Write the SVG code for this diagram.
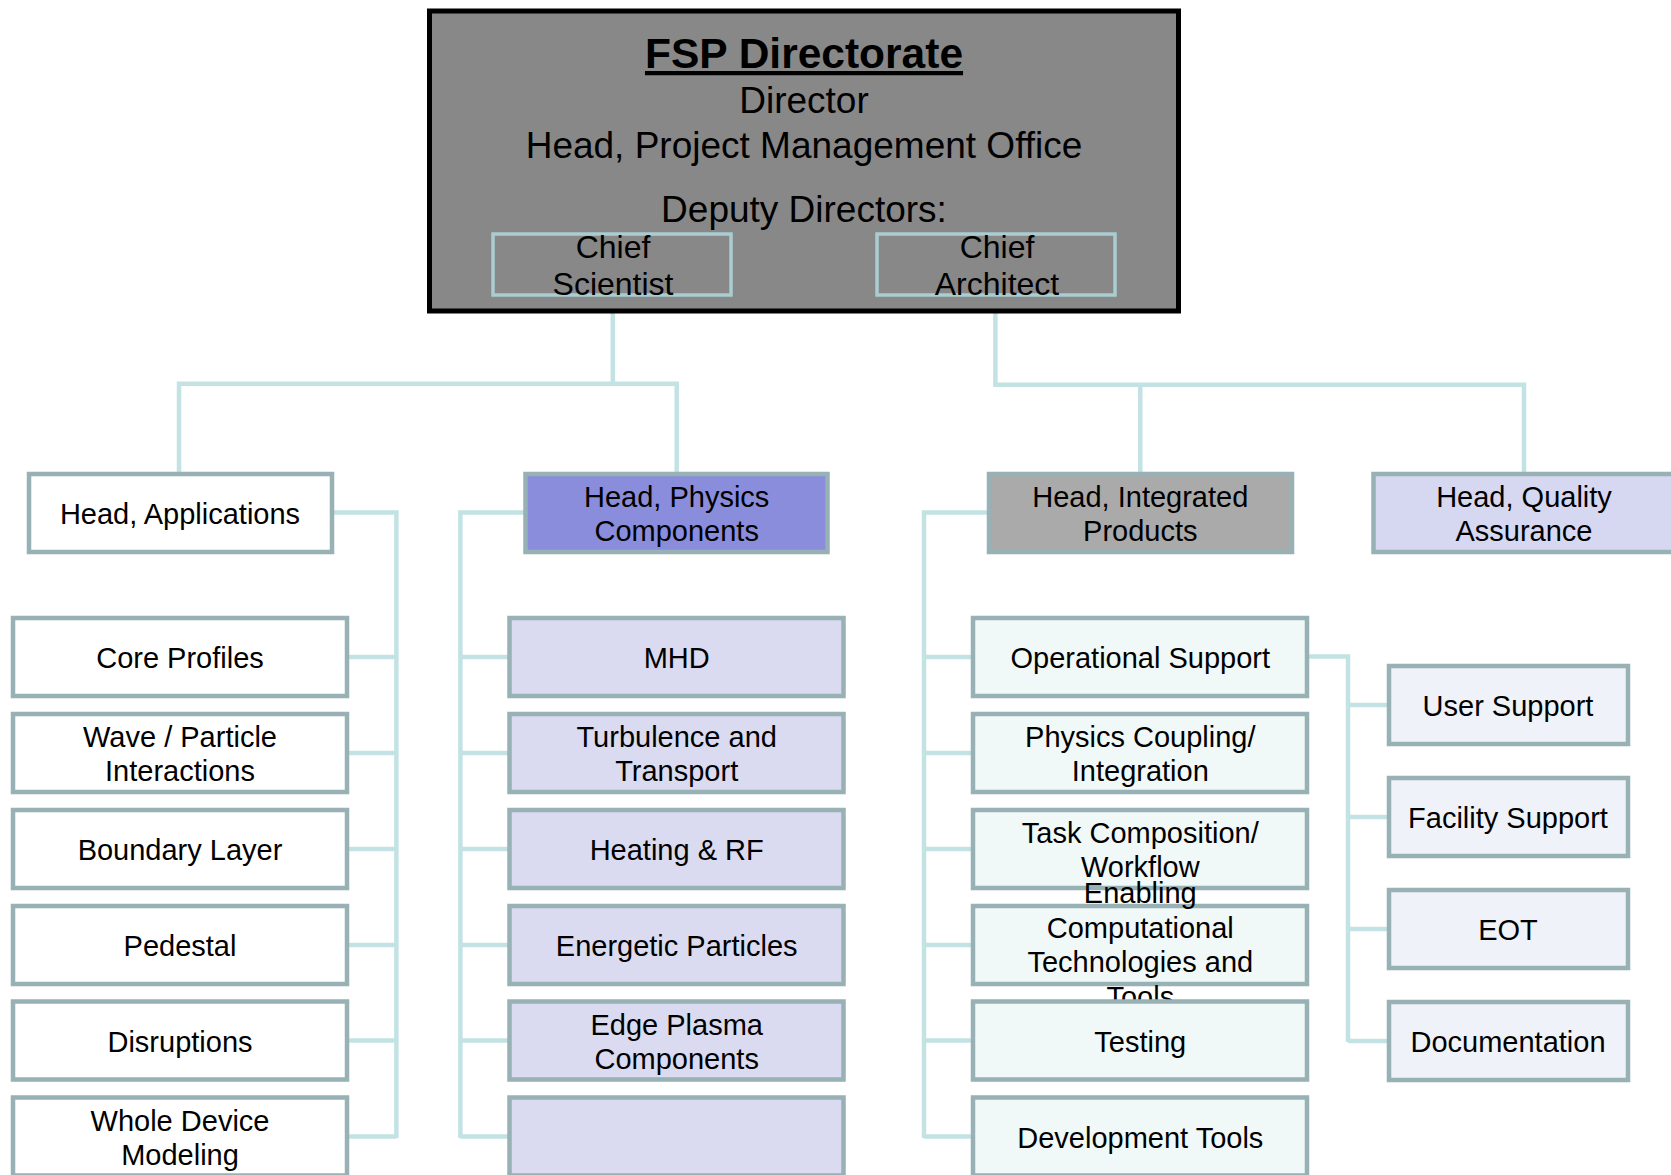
<svg xmlns="http://www.w3.org/2000/svg" width="1671" height="1175" viewBox="0 0 1671 1175">
<style>
text{font-family:"Liberation Sans",Arial,sans-serif;fill:#000;text-anchor:middle}
.t{font-size:29px}
.top{font-size:37px}
.chief{font-size:32px}
.conn{fill:none;stroke:#c3e2e4;stroke-width:4.5}
.box{stroke:#97b1b4;stroke-width:4.5}
.white{fill:#ffffff}
.lav{fill:#dadaf1}
.cyan{fill:#f0f8f8}
.qa{fill:#eff2f8}
.dep{fill:none;stroke:#a9cdd0;stroke-width:3.5}
</style>
<rect width="1671" height="1175" fill="#ffffff"/>
<g id="connectors">
<path class="conn" d="M179 472V383.7H676.7V472M612.8 297V383.7"/>
<path class="conn" d="M995.4 297V384.7H1524V472M1140.3 384.7V472"/>
<path class="conn" d="M333 512.6H396.4V1138M348 657H396.4M348 753H396.4M348 849H396.4M348 945H396.4M348 1040.5H396.4M348 1136.5H396.4"/>
<path class="conn" d="M524 512.6H460.4V1138M508 657H460.4M508 753H460.4M508 849H460.4M508 945H460.4M508 1040.5H460.4M508 1136.5H460.4"/>
<path class="conn" d="M988 512.6H924V1138M972 657H924M972 753H924M972 849H924M972 945H924M972 1040.5H924M972 1136.5H924"/>
<path class="conn" d="M1308 656.5H1348V1042M1387 705H1348M1387 817H1348M1387 929H1348M1387 1041H1348"/>
</g>
<g id="directorate">
<rect x="429.5" y="11" width="749" height="300" fill="#888888" stroke="#000" stroke-width="5"/>
<text x="804" y="68" font-size="42.5" font-weight="bold" text-decoration="underline">FSP Directorate</text>
<text class="top" x="804" y="113">Director</text>
<text class="top" x="804" y="158">Head, Project Management Office</text>
<text class="top" x="804" y="222">Deputy Directors:</text>
</g>
<g id="chief-scientist">
<rect class="dep" x="493" y="234" width="238" height="61"/>
<text class="chief" x="613" y="258">Chief</text>
<text class="chief" x="613" y="295">Scientist</text>
</g>
<g id="chief-architect">
<rect class="dep" x="877" y="234" width="238" height="61"/>
<text class="chief" x="997" y="258">Chief</text>
<text class="chief" x="997" y="295">Architect</text>
</g>
<g id="head-applications">
<rect class="box white" x="29" y="474" width="303" height="78"/>
<text class="t" x="180" y="524">Head, Applications</text>
</g>
<g id="head-physics">
<rect class="box" fill="#8a8ddb" x="525.5" y="474" width="302" height="78"/>
<text class="t" x="676.7" y="507">Head, Physics</text>
<text class="t" x="676.7" y="541">Components</text>
</g>
<g id="head-integrated">
<rect class="box" fill="#aaaaaa" x="989" y="474" width="303" height="78"/>
<text class="t" x="1140.3" y="507">Head, Integrated</text>
<text class="t" x="1140.3" y="541">Products</text>
</g>
<g id="head-qa">
<rect class="box" fill="#d6d7f1" x="1373.5" y="474" width="303" height="78"/>
<text class="t" x="1524" y="507">Head, Quality</text>
<text class="t" x="1524" y="541">Assurance</text>
</g>
<g id="core-profiles"><rect class="box white" x="13" y="618" width="334" height="78"/><text class="t" x="180" y="668">Core Profiles</text></g>
<g id="wave-particle"><rect class="box white" x="13" y="714" width="334" height="78"/><text class="t" x="180" y="747">Wave / Particle</text><text class="t" x="180" y="781">Interactions</text></g>
<g id="boundary-layer"><rect class="box white" x="13" y="810" width="334" height="78"/><text class="t" x="180" y="860">Boundary Layer</text></g>
<g id="pedestal"><rect class="box white" x="13" y="906" width="334" height="78"/><text class="t" x="180" y="956">Pedestal</text></g>
<g id="disruptions"><rect class="box white" x="13" y="1001.5" width="334" height="78"/><text class="t" x="180" y="1051.5">Disruptions</text></g>
<g id="whole-device"><rect class="box white" x="13" y="1097.5" width="334" height="78"/><text class="t" x="180" y="1130.5">Whole Device</text><text class="t" x="180" y="1164.5">Modeling</text></g>
<g id="mhd"><rect class="box lav" x="509.5" y="618" width="334" height="78"/><text class="t" x="676.7" y="668">MHD</text></g>
<g id="turbulence"><rect class="box lav" x="509.5" y="714" width="334" height="78"/><text class="t" x="676.7" y="747">Turbulence and</text><text class="t" x="676.7" y="781">Transport</text></g>
<g id="heating-rf"><rect class="box lav" x="509.5" y="810" width="334" height="78"/><text class="t" x="676.7" y="860">Heating &amp; RF</text></g>
<g id="energetic"><rect class="box lav" x="509.5" y="906" width="334" height="78"/><text class="t" x="676.7" y="956">Energetic Particles</text></g>
<g id="edge-plasma"><rect class="box lav" x="509.5" y="1001.5" width="334" height="78"/><text class="t" x="676.7" y="1034.5">Edge Plasma</text><text class="t" x="676.7" y="1068.5">Components</text></g>
<g id="physics-empty"><rect class="box lav" x="509.5" y="1097.5" width="334" height="78"/></g>
<g id="operational-support"><rect class="box cyan" x="973" y="618" width="334" height="78"/><text class="t" x="1140.3" y="668">Operational Support</text></g>
<g id="physics-coupling"><rect class="box cyan" x="973" y="714" width="334" height="78"/><text class="t" x="1140.3" y="747">Physics Coupling/</text><text class="t" x="1140.3" y="781">Integration</text></g>
<g id="task-composition"><rect class="box cyan" x="973" y="810" width="334" height="78"/><text class="t" x="1140.3" y="843">Task Composition/</text><text class="t" x="1140.3" y="877">Workflow</text></g>
<g id="enabling"><rect class="box cyan" x="973" y="906" width="334" height="78"/><text class="t" x="1140.3" y="903">Enabling</text><text class="t" x="1140.3" y="937.5">Computational</text><text class="t" x="1140.3" y="972">Technologies and</text><text class="t" x="1140.3" y="1006.5">Tools</text></g>
<g id="testing"><rect class="box cyan" x="973" y="1001.5" width="334" height="78"/><text class="t" x="1140.3" y="1051.5">Testing</text></g>
<g id="development-tools"><rect class="box cyan" x="973" y="1097.5" width="334" height="78"/><text class="t" x="1140.3" y="1147.5">Development Tools</text></g>
<g id="user-support"><rect class="box qa" x="1389" y="666" width="239" height="78"/><text class="t" x="1508" y="716">User Support</text></g>
<g id="facility-support"><rect class="box qa" x="1389" y="778" width="239" height="78"/><text class="t" x="1508" y="828">Facility Support</text></g>
<g id="eot"><rect class="box qa" x="1389" y="890" width="239" height="78"/><text class="t" x="1508" y="940">EOT</text></g>
<g id="documentation"><rect class="box qa" x="1389" y="1002" width="239" height="78"/><text class="t" x="1508" y="1052">Documentation</text></g>
</svg>
